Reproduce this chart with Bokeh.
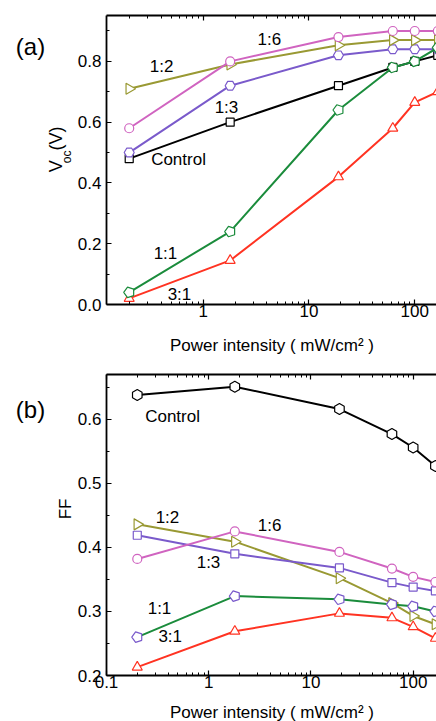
import math
from bokeh.plotting import figure
from bokeh.models import (FixedTicker, PrintfTickFormatter, Range1d, LogAxis, Label,
                          ColumnDataSource)
from bokeh.layouts import column, row
from bokeh.embed import file_html
from bokeh.resources import INLINE

# ---------------- data ----------------
power = [0.2, 1.8, 19, 62, 100, 165]

voc_control = [0.48, 0.60, 0.72, 0.78, 0.80, 0.82]
voc_1_1 = [0.04, 0.24, 0.64, 0.78, 0.80, 0.845]
voc_3_1 = [0.02, 0.145, 0.42, 0.58, 0.665, 0.70]
voc_1_2 = [0.71, 0.79, 0.853, 0.87, 0.87, 0.87]
voc_1_3 = [0.50, 0.72, 0.82, 0.84, 0.84, 0.84]
voc_1_6 = [0.58, 0.80, 0.88, 0.90, 0.90, 0.90]

ff_control = [0.638, 0.651, 0.616, 0.577, 0.556, 0.527]
ff_1_1 = [0.26, 0.324, 0.319, 0.311, 0.308, 0.30]
ff_3_1 = [0.213, 0.269, 0.297, 0.29, 0.276, 0.258]
ff_1_2 = [0.436, 0.409, 0.352, 0.313, 0.293, 0.28]
ff_1_3 = [0.419, 0.39, 0.368, 0.345, 0.338, 0.332]
ff_1_6 = [0.382, 0.425, 0.393, 0.367, 0.354, 0.346]

voc_ticks = [0.0, 0.2, 0.4, 0.6, 0.8]
voc_minor = [0.1, 0.3, 0.5, 0.7, 0.9]
ff_ticks = [0.2, 0.3, 0.4, 0.5, 0.6]
ff_minor = [0.25, 0.35, 0.45, 0.55, 0.65]
x_ticks_a = [1, 10, 100]
x_ticks_b = [0.1, 1, 10, 100]
x_minor = [m * d for d in (0.1, 1, 10, 100) for m in range(2, 10)]

FONT = "Liberation Sans"
BLACK = "#000000"
GREEN = "#1b8c3c"
RED = "#ff3322"
OLIVE = "#999933"
PURPLE = "#7a5acb"
PINK = "#d064c0"

SIDE_W = 74          # side strip (page x 0..74) holding panel letters / y titles
TOP1, FH1, BOT1 = 15, 289, 60
TOP2, FH2, BOT2 = 374 - (TOP1 + FH1 + BOT1), 301, 46
H1 = TOP1 + FH1 + BOT1
H2 = TOP2 + FH2 + BOT2


def style_axis(ax, labels=True):
    ax.axis_line_width = 1.8
    ax.axis_line_color = BLACK
    ax.major_tick_in = 5
    ax.major_tick_out = 0
    ax.minor_tick_in = 3
    ax.minor_tick_out = 0
    ax.major_tick_line_color = BLACK
    ax.minor_tick_line_color = BLACK
    ax.major_tick_line_width = 1.2
    ax.minor_tick_line_width = 1.0
    ax.major_label_text_font = FONT
    ax.major_label_text_color = BLACK
    if labels:
        ax.major_label_text_font_size = "17px"
        ax.major_label_standoff = 5
    else:
        ax.major_label_text_font_size = "1px"
        ax.major_label_text_alpha = 0
        ax.major_label_standoff = 0
    ax.axis_label_text_font = FONT
    ax.axis_label_text_font_size = "17px"
    ax.axis_label_text_font_style = "normal"
    ax.axis_label_text_color = BLACK


def make_fig(xr, yr, fh, top, bottom, xt, yt, ym, xlab_standoff):
    p = figure(x_axis_type="log", x_range=Range1d(*xr), y_range=Range1d(*yr),
               frame_width=331, frame_height=fh,
               min_border_left=105 - SIDE_W, min_border_right=0,
               min_border_top=top, min_border_bottom=bottom,
               output_backend="svg", toolbar_location=None)
    p.xgrid.visible = False
    p.ygrid.visible = False
    p.outline_line_color = None
    p.background_fill_color = "white"
    p.border_fill_color = "white"
    bottom_ax = p.below[0]
    left_ax = p.left[0]
    bottom_ax.ticker = FixedTicker(ticks=xt, minor_ticks=x_minor)
    bottom_ax.formatter = PrintfTickFormatter(format="%g")
    left_ax.ticker = FixedTicker(ticks=yt, minor_ticks=ym)
    left_ax.formatter = PrintfTickFormatter(format="%.1f")
    style_axis(bottom_ax)
    style_axis(left_ax)
    bottom_ax.major_label_standoff = 0
    bottom_ax.axis_label = "Power intensity ( mW/cm\u00b2 )"
    bottom_ax.axis_label_standoff = xlab_standoff
    top_ax = LogAxis(ticker=FixedTicker(ticks=xt, minor_ticks=x_minor))
    style_axis(top_ax, labels=False)
    p.add_layout(top_ax, "above")
    return p


def side_fig(h):
    s = figure(width=SIDE_W, height=h, x_range=Range1d(0, SIDE_W), y_range=Range1d(h, 0),
               min_border=0, output_backend="svg", toolbar_location=None)
    s.axis.visible = False
    s.xgrid.visible = False
    s.ygrid.visible = False
    s.outline_line_color = None
    s.background_fill_color = "white"
    s.border_fill_color = "white"
    return s


def series(p, y, line_color, marker, mcolor=None, size=9, angle=0.0):
    src = ColumnDataSource(dict(x=power, y=y))
    p.line("x", "y", source=src, line_color=line_color, line_width=2)
    mc = mcolor or line_color
    if marker == "pentagon":
        p.ngon(x="x", y="y", radius=5.5, radius_units="screen", n=5, angle=angle,
               source=src, line_color=mc, fill_color="white", line_width=1.2)
    else:
        p.scatter("x", "y", source=src, marker=marker, size=size, angle=angle,
                  line_color=mc, fill_color="white", line_width=1.2)


def text(p, x, y, t, size="17px", angle=0.0):
    p.add_layout(Label(x=x, y=y, text=t, text_font=FONT, text_font_size=size,
                       text_color=BLACK, text_align="center", text_baseline="middle",
                       angle=angle))


# ---------------- panel (a) ----------------
p1 = make_fig((0.122, 164), (0.0, 0.951), FH1, TOP1, BOT1, x_ticks_a, voc_ticks, voc_minor, 16)
series(p1, voc_control, BLACK, "square", size=8)
series(p1, voc_1_3, PURPLE, "hex", size=10)
series(p1, voc_1_2, OLIVE, "triangle", size=11, angle=-math.pi / 2)
series(p1, voc_1_6, PINK, "circle", size=9)
series(p1, voc_3_1, RED, "triangle", size=10)
series(p1, voc_1_1, GREEN, "pentagon", angle=math.pi / 2)

text(p1, 0.404, 0.783, "1:2")
text(p1, 4.23, 0.872, "1:6")
text(p1, 1.66, 0.648, "1:3")
text(p1, 0.585, 0.477, "Control")
text(p1, 0.44, 0.168, "1:1")
text(p1, 0.597, 0.033, "3:1")

s1 = side_fig(H1)
text(s1, 30, 39, "(a)", size="24px")
text(s1, 55.5, 190, "V", size="18px", angle=math.pi / 2)
text(s1, 66.5, 178, "oc", size="12px", angle=math.pi / 2)
text(s1, 55.5, 155, "(V)", size="18px", angle=math.pi / 2)

# ---------------- panel (b) ----------------
p2 = make_fig((0.1, 173), (0.2, 0.67), FH2, TOP2, BOT2, x_ticks_b, ff_ticks, ff_minor, 12)
series(p2, ff_control, BLACK, "hex", size=11, angle=math.pi / 2)
series(p2, ff_1_2, OLIVE, "triangle", size=11, angle=-math.pi / 2)
series(p2, ff_1_3, PURPLE, "square", size=8)
series(p2, ff_1_6, PINK, "circle", size=9)
series(p2, ff_1_1, GREEN, "pentagon", mcolor=PURPLE, angle=math.pi / 2)
series(p2, ff_3_1, RED, "triangle", size=10)

text(p2, 0.443, 0.605, "Control")
text(p2, 0.395, 0.447, "1:2")
text(p2, 3.94, 0.435, "1:6")
text(p2, 0.995, 0.377, "1:3")
text(p2, 0.33, 0.305, "1:1")
text(p2, 0.42, 0.261, "3:1")

s2 = side_fig(H2)
text(s2, 30, 406 - H1, "(b)", size="24px")
text(s2, 65, 525 - H1, "FF", size="17px", angle=math.pi / 2)

layout = column(row(s1, p1, spacing=0), row(s2, p2, spacing=0), spacing=0)
open("out.html", "w").write(file_html(layout, INLINE))
